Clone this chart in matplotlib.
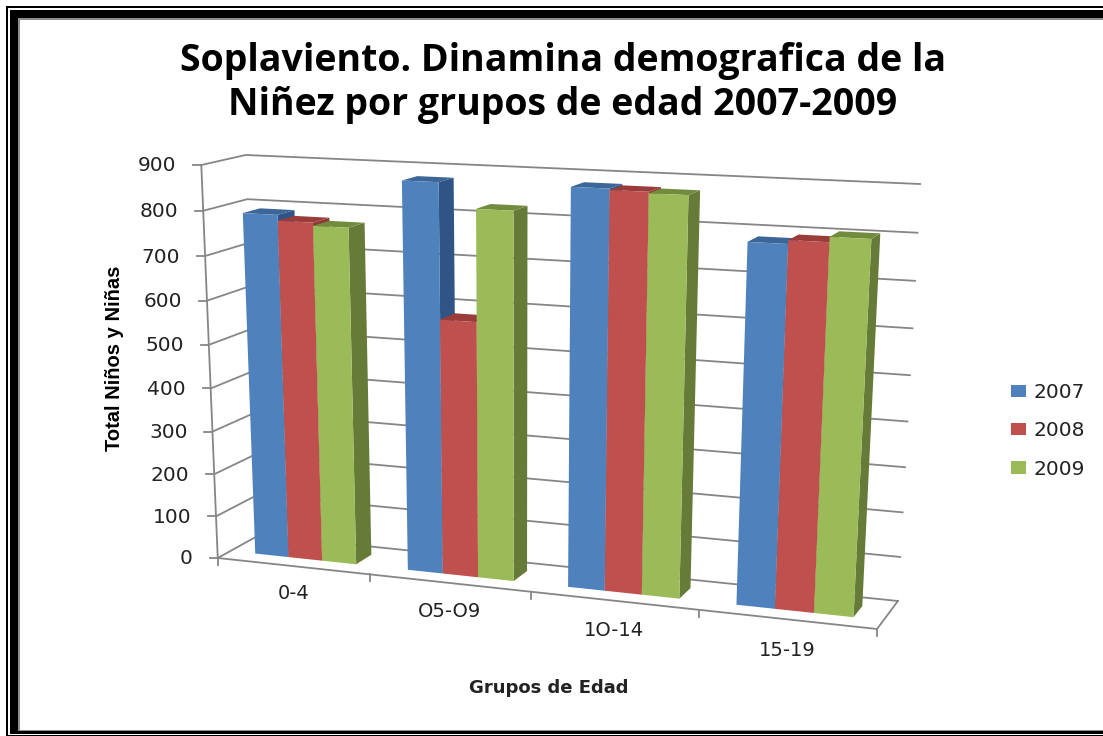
import numpy as np
import matplotlib
matplotlib.use('Agg')
import matplotlib.pyplot as plt
from matplotlib.patches import Polygon, Rectangle, Patch

groups = ['0-4', 'O5-O9', '1O-14', '15-19']
years = ['2007', '2008', '2009']
v2007 = [790, 878, 881, 785]
v2008 = [777, 580, 878, 793]
v2009 = [770, 825, 875, 804]
yticks = [0, 100, 200, 300, 400, 500, 600, 700, 800, 900]
title = 'Soplaviento. Dinamina demografica de la\nNiñez por grupos de edad 2007-2009'

front = ['#4F81BD', '#C0504D', '#9BBB59']
side = ['#2F5485', '#8E3A38', '#677B38']
top = ['#3C6698', '#9A3D3A', '#728C3E']
GRID = '#868686'
YMAX = 900.0


# the box of the chart, as (x, value, depth) -> pixel, fitted once
def fit_camera():
    box = [(0, 0, 0), (1, 0, 0), (1, 0, 1), (0, 0, 1), (0, 1, 0), (0, 1, 1), (1, 1, 1)]
    pix = [(219, 558), (877, 629), (898, 601), (258, 535), (200, 165), (247, 155), (920, 184)]
    A, b = [], []
    for (X, Y, Z), (px, py) in zip(box, pix):
        A.append([X, Y, Z, 1, 0, 0, 0, 0, -px * X, -px * Y, -px * Z])
        A.append([0, 0, 0, 0, X, Y, Z, 1, -py * X, -py * Y, -py * Z])
        b += [px, py]
    h = np.linalg.lstsq(np.array(A, float), np.array(b, float), rcond=None)[0]
    return np.append(h, 1).reshape(3, 4)


P = fit_camera()


def proj(u, val, w):
    p = P @ np.array([u, val / YMAX, w, 1.0])
    return p[0] / p[2], p[1] / p[2]


fig = plt.figure(figsize=(11.03, 7.36), dpi=100)
ax = fig.add_axes([0, 0, 1, 1])
ax.set_xlim(0, 1103)
ax.set_ylim(736, 0)
ax.axis('off')

# picture frame
ax.add_patch(Rectangle((6, 6), 1200, 730, fc='black', ec='none', zorder=1))
ax.add_patch(Rectangle((8, 8), 1200, 727, fc='white', ec='none', zorder=1))
ax.add_patch(Rectangle((10, 10), 1200, 723.5, fc='black', ec='none', zorder=1))
ax.add_patch(Rectangle((18, 18), 1200, 713, fc='#8C8C8C', ec='none', zorder=1))
ax.add_patch(Rectangle((20, 20), 1200, 710, fc='white', ec='none', zorder=1))

# walls and floor lines
for v in yticks:
    a, b_, c = proj(0, v, 0), proj(0, v, 1), proj(1, v, 1)
    ax.plot([a[0], b_[0], c[0]], [a[1], b_[1], c[1]], color=GRID, lw=1.3, zorder=2)
    ax.plot([a[0] - 8, a[0]], [a[1], a[1]], color=GRID, lw=1.3, zorder=2)
    ax.text(a[0] - 25, a[1] + 1, str(v), ha='right', va='center', fontsize=14.5, color='#222222', zorder=5)

a, b_ = proj(0, 0, 0), proj(0, YMAX, 0)
ax.plot([a[0], b_[0]], [a[1], b_[1]], color=GRID, lw=1.3, zorder=2)
a, b_, c = proj(0, 0, 0), proj(1, 0, 0), proj(1, 0, 1)
ax.plot([a[0], b_[0], c[0]], [a[1], b_[1], c[1]], color=GRID, lw=1.3, zorder=2)
for i in range(len(groups) + 1):
    t = proj(i / len(groups), 0, 0)
    ax.plot([t[0], t[0]], [t[1], t[1] + 7], color=GRID, lw=1.3, zorder=2)

# bars, left to right so the nearer side faces get covered properly
series = [v2007, v2008, v2009]
bw = 1 / 4.5
margin = 0.75 * bw
w0, w1 = 0.3, 0.7
z = 3
for i in range(len(groups)):
    for s in range(len(years)):
        val = series[s][i]
        u0 = (i + margin + s * bw) / len(groups)
        u1 = (i + margin + (s + 1) * bw) / len(groups)
        ax.add_patch(Polygon([proj(u1, 0, w0), proj(u1, 0, w1), proj(u1, val, w1), proj(u1, val, w0)],
                             fc=side[s], ec='none', zorder=z))
        ax.add_patch(Polygon([proj(u0, val, w0), proj(u1, val, w0), proj(u1, val, w1), proj(u0, val, w1)],
                             fc=top[s], ec='none', zorder=z))
        ax.add_patch(Polygon([proj(u0, 0, w0), proj(u1, 0, w0), proj(u1, val, w0), proj(u0, val, w0)],
                             fc=front[s], ec='none', zorder=z))
        z += 0.01

for i, g in enumerate(groups):
    c = proj((i + 0.5) / len(groups), 0, 0)
    ax.text(c[0], c[1] + 27 + i * 1.3, g, ha='center', va='center', fontsize=14, color='#222222', zorder=5)

ax.text(563, 83, title, ha='center', va='center', fontsize=27, fontweight='bold',
        family='Open Sans', linespacing=1.22, color='black', zorder=5)
ax.text(549, 688, 'Grupos de Edad', ha='center', va='center', fontsize=13, fontweight='bold',
        color='#222222', zorder=5)
ax.text(115, 358, 'Total Niños y Niñas', ha='center', va='center', rotation=90, fontsize=14.5,
        fontweight='bold', family='Liberation Sans', color='black', zorder=5)

handles = [Patch(fc=front[s], ec='none', label=years[s]) for s in range(len(years))]
ax.legend(handles=handles, loc='center left', bbox_to_anchor=(1005 / 1103, 1 - 431 / 736), frameon=False,
          fontsize=14.5, handlelength=0.75, handleheight=0.55, handletextpad=0.35, labelspacing=0.95,
          labelcolor='#222222', borderpad=0, borderaxespad=0.3)

fig.savefig('out.png', dpi=100)
